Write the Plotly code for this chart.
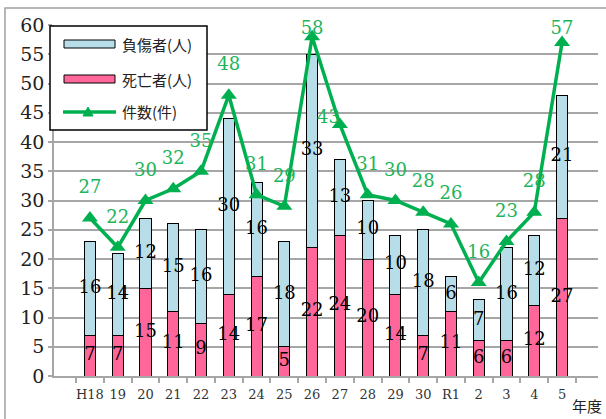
import plotly.graph_objects as go

years = ["H18", "19", "20", "21", "22", "23", "24", "25", "26", "27", "28", "29", "30", "R1", "2", "3", "4", "5"]
deaths = [7, 7, 15, 11, 9, 14, 17, 5, 22, 24, 20, 14, 7, 11, 6, 6, 12, 27]
injured = [16, 14, 12, 15, 16, 30, 16, 18, 33, 13, 10, 10, 18, 6, 7, 16, 12, 21]
cases = [27, 22, 30, 32, 35, 48, 31, 29, 58, 43, 31, 30, 28, 26, 16, 23, 28, 57]

PINK = "#FF6699"
BLUE = "#B7DDE8"
GREEN = "#00B050"
LABEL_GREEN = "#1DB45A"
GRID = "#A6A6A6"
SERIF = "DejaVu Serif"
CJK = "Noto Sans CJK JP"

W, H = 606, 419
L, R, T, B = 54, 8, 25, 43
PW, PH = W - L - R, H - T - B


def px(x):
    return (x - L) / PW


def py(y):
    return (H - B - y) / PH


fig = go.Figure()
fig.add_trace(go.Bar(x=years, y=deaths, marker=dict(color=PINK, line=dict(color="black", width=1)),
                     width=0.4, showlegend=False, hoverinfo="skip"))
fig.add_trace(go.Bar(x=years, y=injured, marker=dict(color=BLUE, line=dict(color="black", width=1)),
                     width=0.4, showlegend=False, hoverinfo="skip"))
fig.add_trace(go.Scatter(x=years, y=cases, mode="lines+markers",
                         line=dict(color=GREEN, width=3.5),
                         marker=dict(symbol="triangle-up", size=14, color=GREEN),
                         showlegend=False, hoverinfo="skip"))

# segment labels
fig.add_trace(go.Scatter(x=years, y=[d / 2 for d in deaths], mode="text",
                         text=[str(d) for d in deaths], textposition="middle center",
                         textfont=dict(family=SERIF, size=18, color="black"),
                         showlegend=False, hoverinfo="skip", cliponaxis=False))
fig.add_trace(go.Scatter(x=years, y=[d + i / 2 for d, i in zip(deaths, injured)], mode="text",
                         text=[str(i) for i in injured], textposition="middle center",
                         textfont=dict(family=SERIF, size=18, color="black"),
                         showlegend=False, hoverinfo="skip", cliponaxis=False))

# case labels
lab_y = []
lab_pos = []
for c in cases:
    if c == 43:
        lab_y.append(c + 1)
        lab_pos.append("middle left")
    else:
        lab_y.append(min(c + 5, 59.3))
        lab_pos.append("middle center")
fig.add_trace(go.Scatter(x=years, y=lab_y, mode="text", text=[str(c) for c in cases],
                         textposition=lab_pos,
                         textfont=dict(family=SERIF, size=18, color=LABEL_GREEN),
                         showlegend=False, hoverinfo="skip", cliponaxis=False))

shapes = []
# outer frame
shapes.append(dict(type="rect", xref="paper", yref="paper", x0=px(5), x1=px(620), y0=py(430), y1=py(8),
                   line=dict(color="#A0A0A0", width=1.5), layer="below"))
# legend box
shapes.append(dict(type="rect", xref="paper", yref="paper", x0=px(50), x1=px(207), y0=py(130), y1=py(26),
                   line=dict(color="black", width=1.5), fillcolor="white", layer="above"))
shapes.append(dict(type="rect", xref="paper", yref="paper", x0=px(64), x1=px(115), y0=py(48), y1=py(40),
                   line=dict(color="black", width=1), fillcolor=BLUE, layer="above"))
shapes.append(dict(type="rect", xref="paper", yref="paper", x0=px(64), x1=px(115), y0=py(83), y1=py(75),
                   line=dict(color="black", width=1), fillcolor=PINK, layer="above"))
shapes.append(dict(type="line", xref="paper", yref="paper", x0=px(63), x1=px(116), y0=py(112), y1=py(112),
                   line=dict(color=GREEN, width=3.5), layer="above"))
shapes.append(dict(type="path", xref="paper", yref="paper",
                   path=f"M {px(83)},{py(116)} L {px(93)},{py(116)} L {px(88)},{py(107)} Z",
                   line=dict(color=GREEN, width=1), fillcolor=GREEN, layer="above"))

annotations = []
for txt, yy in [("負傷者(人)", 44), ("死亡者(人)", 79), ("件数(件)", 111)]:
    annotations.append(dict(text=txt, xref="paper", yref="paper", x=px(120), y=py(yy),
                            xanchor="left", yanchor="middle", showarrow=False,
                            font=dict(family=CJK, size=15, color="#222")))
annotations.append(dict(text="年度", xref="paper", yref="paper", x=px(587), y=py(405),
                        xanchor="center", yanchor="middle", showarrow=False,
                        font=dict(family=CJK, size=15, color="#222")))

fig.update_layout(
    width=W, height=H,
    margin=dict(l=L, r=R, t=T, b=B, autoexpand=False),
    barmode="stack",
    paper_bgcolor="white", plot_bgcolor="white",
    shapes=shapes, annotations=annotations,
    showlegend=False,
    xaxis=dict(type="category", tickson="boundaries", ticks="outside", ticklen=5, tickcolor=GRID,
               tickwidth=1.5, showline=True, linecolor=GRID, linewidth=1.5, showgrid=False,
               tickangle=0, automargin=False, ticklabelstandoff=6,
               tickfont=dict(family=SERIF, size=13, color="#333")),
    yaxis=dict(range=[0, 60], dtick=5, ticks="outside", ticklen=4, tickcolor=GRID, tickwidth=1.5,
               showline=True, linecolor=GRID, linewidth=1.5, showgrid=True, gridcolor=GRID,
               gridwidth=1.5, zeroline=False, automargin=False,
               tickfont=dict(family=SERIF, size=19, color="#222")),
)

fig.write_html("out.html", config={"displayModeBar": False},
               post_script="document.body.style.margin='0';document.body.style.overflow='hidden';")
